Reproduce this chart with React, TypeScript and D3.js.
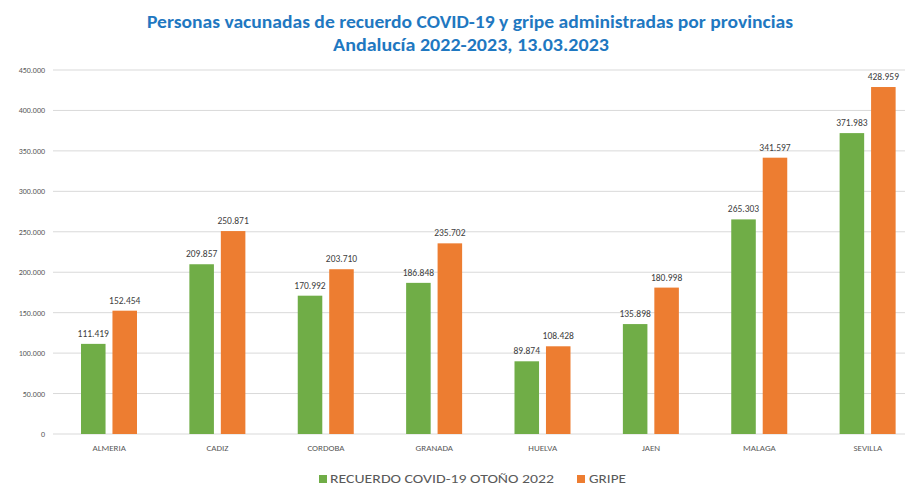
import React from "react";
import * as d3 from "d3";

const provinces = ["ALMERIA", "CADIZ", "CORDOBA", "GRANADA", "HUELVA", "JAEN", "MALAGA", "SEVILLA"];
const covid = [111419, 209857, 170992, 186848, 89874, 135898, 265303, 371983];
const gripe = [152454, 250871, 203710, 235702, 108428, 180998, 341597, 428959];
const yTicks = [0, 50000, 100000, 150000, 200000, 250000, 300000, 350000, 400000, 450000];
const seriesNames = ["RECUERDO COVID-19 OTOÑO 2022", "GRIPE"];
const colors = ["#70AD47", "#ED7D31"];

const W = 914;
const H = 488;

const fmt = (v: number) =>
  v === 0 ? "0" : d3.format(",")(v).replace(/,/g, ".");

const App = () => {
  const x = d3.scaleBand().domain(provinces).range([55, 922]);
  const inner = d3.scaleBand().domain(["0", "1"]).range([26, 82]).paddingInner(0.22);
  const y = d3.scaleLinear().domain([0, 450000]).range([434, 70]);
  const series = [covid, gripe];
  const font = "Calibri, 'Liberation Sans Narrow', 'Liberation Sans', sans-serif";

  return (
    <svg
      width={W}
      height={H}
      style={{ position: "absolute", left: 0, top: 0, background: "#fff" }}
      fontFamily={font}
    >
      <rect width={W} height={H} fill="#fff" />
      <text x={470} y={28} textAnchor="middle" fontSize={17} fontWeight="bold" fill="#1F78C1"
        textLength={646} lengthAdjust="spacingAndGlyphs">
        Personas vacunadas de recuerdo COVID-19 y gripe administradas por provincias
      </text>
      <text x={471} y={51} textAnchor="middle" fontSize={17} fontWeight="bold" fill="#1F78C1"
        textLength={276} lengthAdjust="spacingAndGlyphs">
        Andalucía 2022-2023, 13.03.2023
      </text>

      {yTicks.map((t) => (
        <g key={t}>
          <line x1={53} x2={905} y1={y(t)} y2={y(t)} stroke="#D9D9D9" strokeWidth={1} />
          <text x={45} y={y(t) + 3} textAnchor="end" fontSize={8} fill="#595959">
            {fmt(t)}
          </text>
        </g>
      ))}

      {provinces.map((p, i) => (
        <g key={p} transform={`translate(${x(p)},0)`}>
          {series.map((s, k) => {
            const bx = inner(String(k)) as number;
            const bw = inner.bandwidth();
            return (
              <g key={k}>
                <rect x={bx} y={y(s[i])} width={bw} height={y(0) - y(s[i])} fill={colors[k]} />
                <text x={bx + bw / 2} y={y(s[i]) - 7} textAnchor="middle" fontSize={9.5} fill="#404040">
                  {fmt(s[i])}
                </text>
              </g>
            );
          })}
          <text x={x.bandwidth() / 2} y={451} textAnchor="middle" fontSize={9} fill="#595959">
            {p}
          </text>
        </g>
      ))}

      <g>
        <rect x={319} y={475} width={8} height={8} fill={colors[0]} />
        <text x={330} y={483} fontSize={13} fill="#595959" textLength={224} lengthAdjust="spacingAndGlyphs">
          {seriesNames[0]}
        </text>
        <rect x={577} y={475} width={8} height={8} fill={colors[1]} />
        <text x={589} y={483} fontSize={13} fill="#595959" textLength={37} lengthAdjust="spacingAndGlyphs">
          {seriesNames[1]}
        </text>
      </g>
    </svg>
  );
};

export default App;
